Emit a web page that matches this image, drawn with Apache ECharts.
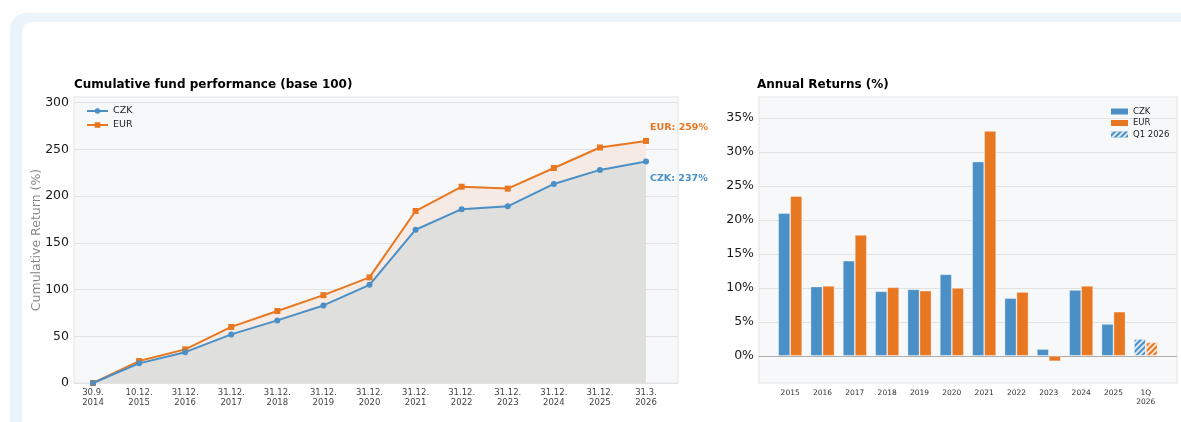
<!DOCTYPE html>
<html>
<head>
<meta charset="utf-8">
<script src="https://cdn.jsdelivr.net/npm/echarts@6/dist/echarts.min.js"></script>
<style>
	html, body { margin: 0; padding: 0; background: #fff; }
	.frame { position: absolute; left: 10px; top: 13px; width: 1220px; height: 460px; background: #ebf4fb; border-radius: 16px; }
	.inner { position: absolute; left: 22px; top: 22px; width: 1220px; height: 460px; background: #fff; border-radius: 10px; }
	#main { position: absolute; left: 0; top: 0; width: 1181px; height: 422px; }
</style>
</head>
<body>
<div class="frame"></div>
<div class="inner"></div>
<div id="main"></div>
<script>
	// cumulative performance (left)
	const cumDates = ['30.9.\n2014', '10.12.\n2015', '31.12.\n2016', '31.12.\n2017', '31.12.\n2018', '31.12.\n2019',
		'31.12.\n2020', '31.12.\n2021', '31.12.\n2022', '31.12.\n2023', '31.12.\n2024', '31.12.\n2025', '31.3.\n2026'];
	const cumCZK = [0, 21, 33, 52, 67, 83, 105, 164, 186, 189, 213, 228, 237];
	const cumEUR = [0, 23.5, 36, 60, 77, 94, 113, 184, 210, 208, 230, 252, 259];
	const cumTicks = [0, 50, 100, 150, 200, 250, 300];

	// annual returns (right)
	const years = ['2015', '2016', '2017', '2018', '2019', '2020', '2021', '2022', '2023', '2024', '2025', '1Q\n2026'];
	const annCZK = [21.0, 10.2, 14.0, 9.5, 9.8, 12.0, 28.6, 8.5, 1.0, 9.7, 4.7, 2.5];
	const annEUR = [23.5, 10.3, 17.8, 10.1, 9.6, 10.0, 33.1, 9.4, -0.8, 10.3, 6.5, 2.0];
	const annTicks = [0, 5, 10, 15, 20, 25, 30, 35];

	const BLUE = '#4a8fc6';
	const ORANGE = '#e87722';
	const FONT = 'DejaVu Sans';

	const hatch = {
		symbol: 'rect',
		symbolSize: 1,
		dashArrayX: [1, 0],
		dashArrayY: [2, 2],
		rotation: -Math.PI / 4,
		color: 'rgba(255,255,255,0.8)'
	};

	const last = cumCZK.length - 1;
	const czkLine = cumCZK.map((v, i) => i === last ? {
		value: v,
		label: { show: true, position: 'right', distance: 1, offset: [0, 17], formatter: 'CZK: ' + v + '%', color: BLUE, fontWeight: 'bold', fontSize: 9.5, fontFamily: FONT }
	} : v);
	const eurLine = cumEUR.map((v, i) => i === last ? {
		value: v,
		label: { show: true, position: 'right', distance: 1, offset: [0, -13], formatter: 'EUR: ' + v + '%', color: ORANGE, fontWeight: 'bold', fontSize: 9.5, fontFamily: FONT }
	} : v);
	const qLast = annCZK.length - 1;
	const czkBars = annCZK.map((v, i) => i === qLast ? { value: v, itemStyle: { decal: hatch } } : v);
	const eurBars = annEUR.map((v, i) => i === qLast ? { value: v, itemStyle: { decal: hatch } } : v);

	const chart = echarts.init(document.getElementById('main'));
	const hideAxis = { axisLine: { show: false }, axisTick: { show: false }, axisLabel: { show: false }, splitLine: { show: false } };

	chart.setOption({
		animation: false,
		textStyle: { fontFamily: FONT },
		title: [{
			text: 'Cumulative fund performance (base 100)',
			left: 69, top: 74,
			textStyle: { fontSize: 12, fontWeight: 'bold', color: '#000', fontFamily: FONT }
		}, {
			text: 'Annual Returns (%)',
			left: 752, top: 74,
			textStyle: { fontSize: 12, fontWeight: 'bold', color: '#000', fontFamily: FONT }
		}],
		legend: [{
			data: ['CZK', 'EUR'],
			orient: 'vertical',
			left: 81, top: 101,
			itemWidth: 21, itemHeight: 7, itemGap: 4,
			textStyle: { fontSize: 9.5, color: '#222', fontFamily: FONT }
		}, {
			data: [{ name: 'CZK', icon: 'rect' }, { name: 'EUR', icon: 'rect' }, { name: 'Q1 2026', icon: 'rect' }],
			orient: 'vertical',
			left: 1106, top: 102,
			itemWidth: 17, itemHeight: 6, itemGap: 2.5,
			textStyle: { fontSize: 8.5, color: '#222', fontFamily: FONT }
		}],
		grid: [
			{ left: 74, right: 503, top: 97, bottom: 39, show: true, backgroundColor: '#f7f8fa', borderColor: '#e4e4e4', borderWidth: 1 },
			{ left: 93, right: 535, top: 97, bottom: 39 },
			{ left: 759, right: 4, top: 97, bottom: 39, show: true, backgroundColor: '#f7f8fa', borderColor: '#e4e4e4', borderWidth: 1 },
			{ left: 774, right: 19, top: 97, bottom: 39 }
		],
		xAxis: [
			{ gridIndex: 0, type: 'value', min: 0, max: 1, ...hideAxis },
			{
				gridIndex: 1, type: 'category', data: cumDates, boundaryGap: false,
				axisLine: { show: false }, axisTick: { show: false },
				axisLabel: { interval: 0, fontSize: 8.5, color: '#444', lineHeight: 10, margin: 5 }
			},
			{
				gridIndex: 2, type: 'value', min: 0, max: 1,
				axisLine: { show: true, onZero: true, lineStyle: { color: '#adadad', width: 1 } },
				axisTick: { show: false }, axisLabel: { show: false }, splitLine: { show: false }
			},
			{
				gridIndex: 3, type: 'category', data: years,
				axisLine: { show: false }, axisTick: { show: false },
				axisLabel: { interval: 0, fontSize: 7.5, color: '#333', lineHeight: 9.5, margin: 5 }
			}
		],
		yAxis: [
			{
				gridIndex: 0, type: 'value', min: 0, max: 306,
				name: 'Cumulative Return (%)', nameLocation: 'middle', nameGap: 31, nameMoveOverlap: false,
				nameTextStyle: { color: '#888', fontSize: 12.5 },
				axisLine: { show: false },
				axisTick: { show: false, customValues: cumTicks },
				axisLabel: { customValues: cumTicks, fontSize: 12.5, color: '#1a1a1a', margin: 5 },
				splitLine: { show: true, lineStyle: { color: '#e2e2e2', width: 1 } }
			},
			{ gridIndex: 1, type: 'value', min: 0, max: 306, ...hideAxis },
			{
				gridIndex: 2, type: 'value', min: -4, max: 38.1,
				axisLine: { show: false },
				axisTick: { show: false, customValues: annTicks },
				axisLabel: { customValues: annTicks, fontSize: 12.5, color: '#1a1a1a', margin: 5, formatter: '{value}%' },
				splitLine: { show: true, lineStyle: { color: '#e2e2e2', width: 1 } }
			},
			{ gridIndex: 3, type: 'value', min: -4, max: 38.1, ...hideAxis }
		],
		series: [{
			name: 'EUR',
			type: 'line',
			xAxisIndex: 1, yAxisIndex: 1,
			data: eurLine,
			symbol: 'rect', symbolSize: 6,
			itemStyle: { color: ORANGE },
			lineStyle: { color: ORANGE, width: 2 },
			areaStyle: { color: '#f5ebe4', opacity: 1 }
		}, {
			name: 'CZK',
			type: 'line',
			xAxisIndex: 1, yAxisIndex: 1,
			data: czkLine,
			symbol: 'circle', symbolSize: 6,
			itemStyle: { color: BLUE },
			lineStyle: { color: BLUE, width: 2 },
			areaStyle: { color: '#dfdfde', opacity: 1 }
		}, {
			name: 'CZK',
			type: 'bar',
			xAxisIndex: 3, yAxisIndex: 3,
			data: czkBars,
			barWidth: 12, barGap: '0%',
			itemStyle: { color: BLUE, borderColor: 'rgba(255,255,255,0.45)', borderWidth: 0.8 }
		}, {
			name: 'EUR',
			type: 'bar',
			xAxisIndex: 3, yAxisIndex: 3,
			data: eurBars,
			barWidth: 12, barGap: '0%',
			itemStyle: { color: ORANGE, borderColor: 'rgba(255,255,255,0.45)', borderWidth: 0.8 }
		}, {
			name: 'Q1 2026',
			type: 'bar',
			xAxisIndex: 2, yAxisIndex: 2,
			data: [],
			itemStyle: { color: BLUE, decal: hatch }
		}]
	});
</script>
</body>
</html>
